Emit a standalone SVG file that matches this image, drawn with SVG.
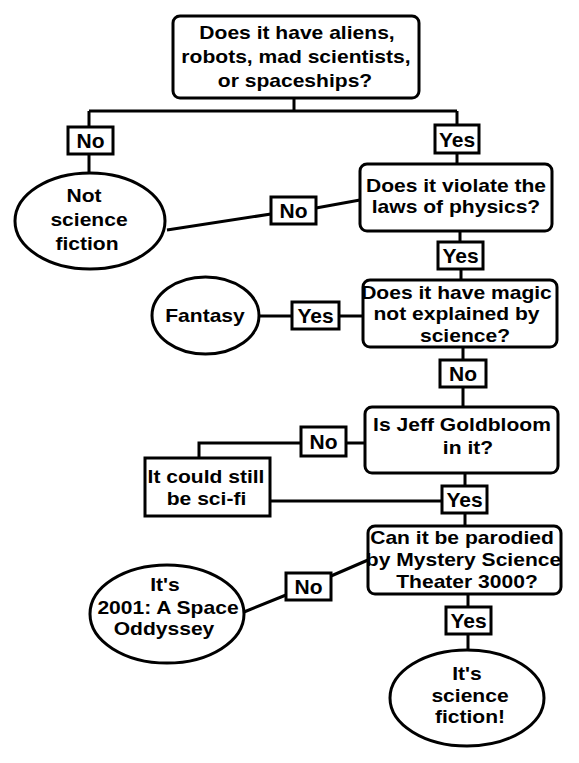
<svg xmlns="http://www.w3.org/2000/svg" width="579" height="763" viewBox="0 0 579 763">
<style>
.bg{fill:#fff}
.n{fill:#fff;stroke:#000;stroke-width:3}
.c{fill:none;stroke:#000;stroke-width:3}
.t{font-family:"Liberation Sans",Arial,sans-serif;font-weight:bold;font-size:18px;text-anchor:middle;fill:#000}
.l{font-family:"Liberation Sans",Arial,sans-serif;font-weight:bold;font-size:21px;text-anchor:middle;fill:#000}
</style>
<rect class="bg" x="0" y="0" width="579" height="763"/>
<g id="connectors">
<path class="c" d="M294 98V111M89 111H457M89 111V127M89 154V173M457 111V125M457 153V164"/>
<path class="c" d="M360 200L316 208M271 214L167 230"/>
<path class="c" d="M460 231V242M461 269V280"/>
<path class="c" d="M363 316H339M292 316H259"/>
<path class="c" d="M463 347V360M463 387V407"/>
<path class="c" d="M365 443H346M301 443H199V458"/>
<path class="c" d="M465 473V486M442 501H270M465 513V526"/>
<path class="c" d="M368 560L331 576M286 595L244 612"/>
<path class="c" d="M468 594V607M468 634V650"/>
</g>
<g id="q-aliens">
<rect class="n" x="173" y="16" width="246" height="82" rx="7"/>
<text class="t" transform="matrix(1.17 0 0 1 297 39)">Does it have aliens,</text>
<text class="t" transform="matrix(1.17 0 0 1 296 63)">robots, mad scientists,</text>
<text class="t" transform="matrix(1.17 0 0 1 295 87)">or spaceships?</text>
</g>
<g id="not-sf">
<ellipse class="n" cx="90" cy="221" rx="75" ry="48"/>
<text class="t" transform="matrix(1.17 0 0 1 84 202)">Not</text>
<text class="t" transform="matrix(1.17 0 0 1 89 226)">science</text>
<text class="t" transform="matrix(1.17 0 0 1 87 250)">fiction</text>
</g>
<g id="q-physics">
<rect class="n" x="360" y="164" width="192" height="67" rx="7"/>
<text class="t" transform="matrix(1.17 0 0 1 456 192)">Does it violate the</text>
<text class="t" transform="matrix(1.17 0 0 1 456 213)">laws of physics?</text>
</g>
<g id="fantasy">
<ellipse class="n" cx="205.5" cy="315.5" rx="53.5" ry="38.5"/>
<text class="t" transform="matrix(1.17 0 0 1 205 322)">Fantasy</text>
</g>
<g id="q-magic">
<rect class="n" x="363" y="280" width="194" height="67" rx="7"/>
<text class="t" transform="matrix(1.17 0 0 1 456.5 299)">Does it have magic</text>
<text class="t" transform="matrix(1.17 0 0 1 456.5 320)">not explained by</text>
<text class="t" transform="matrix(1.17 0 0 1 465 342)">science?</text>
</g>
<g id="q-goldbloom">
<rect class="n" x="365" y="407" width="193" height="66" rx="7"/>
<text class="t" transform="matrix(1.17 0 0 1 462 431)">Is Jeff Goldbloom</text>
<text class="t" transform="matrix(1.17 0 0 1 468 454)">in it?</text>
</g>
<g id="still-scifi">
<rect class="n" x="145" y="458" width="125" height="58"/>
<text class="t" transform="matrix(1.17 0 0 1 206 483)">It could still</text>
<text class="t" transform="matrix(1.17 0 0 1 206.5 505)">be sci-fi</text>
</g>
<g id="q-mst3k">
<rect class="n" x="368" y="526" width="193" height="68" rx="7"/>
<text class="t" transform="matrix(1.17 0 0 1 462 544)">Can it be parodied</text>
<text class="t" transform="matrix(1.17 0 0 1 463.5 566)">by Mystery Science</text>
<text class="t" transform="matrix(1.17 0 0 1 467 588)">Theater 3000?</text>
</g>
<g id="odyssey">
<ellipse class="n" cx="167" cy="614" rx="77" ry="49"/>
<text class="t" transform="matrix(1.17 0 0 1 165 591)">It's</text>
<text class="t" transform="matrix(1.17 0 0 1 168 614)">2001: A Space</text>
<text class="t" transform="matrix(1.17 0 0 1 164 635)">Oddyssey</text>
</g>
<g id="is-sf">
<ellipse class="n" cx="467" cy="698" rx="77" ry="48"/>
<text class="t" transform="matrix(1.17 0 0 1 467 680)">It's</text>
<text class="t" transform="matrix(1.17 0 0 1 470 702)">science</text>
<text class="t" transform="matrix(1.17 0 0 1 470 723)">fiction!</text>
</g>
<g id="labels">
<g id="lbl1"><rect class="n" x="68" y="127" width="45" height="27"/><text class="l" x="90.5" y="148">No</text></g>
<g id="lbl2"><rect class="n" x="435" y="125" width="44" height="28"/><text class="l" x="457" y="147">Yes</text></g>
<g id="lbl3"><rect class="n" x="271" y="197" width="45" height="27"/><text class="l" x="293.5" y="218">No</text></g>
<g id="lbl4"><rect class="n" x="438" y="242" width="45" height="27"/><text class="l" x="460.5" y="263">Yes</text></g>
<g id="lbl5"><rect class="n" x="292" y="302" width="47" height="27"/><text class="l" x="315.5" y="323">Yes</text></g>
<g id="lbl6"><rect class="n" x="440" y="360" width="46" height="27"/><text class="l" x="463" y="381">No</text></g>
<g id="lbl7"><rect class="n" x="301" y="427" width="45" height="29"/><text class="l" x="323.5" y="449">No</text></g>
<g id="lbl8"><rect class="n" x="442" y="486" width="45" height="27"/><text class="l" x="464.5" y="507">Yes</text></g>
<g id="lbl9"><rect class="n" x="286" y="573" width="45" height="27"/><text class="l" x="308.5" y="594">No</text></g>
<g id="lbl10"><rect class="n" x="446" y="607" width="45" height="27"/><text class="l" x="468.5" y="628">Yes</text></g>
</g>
</svg>
